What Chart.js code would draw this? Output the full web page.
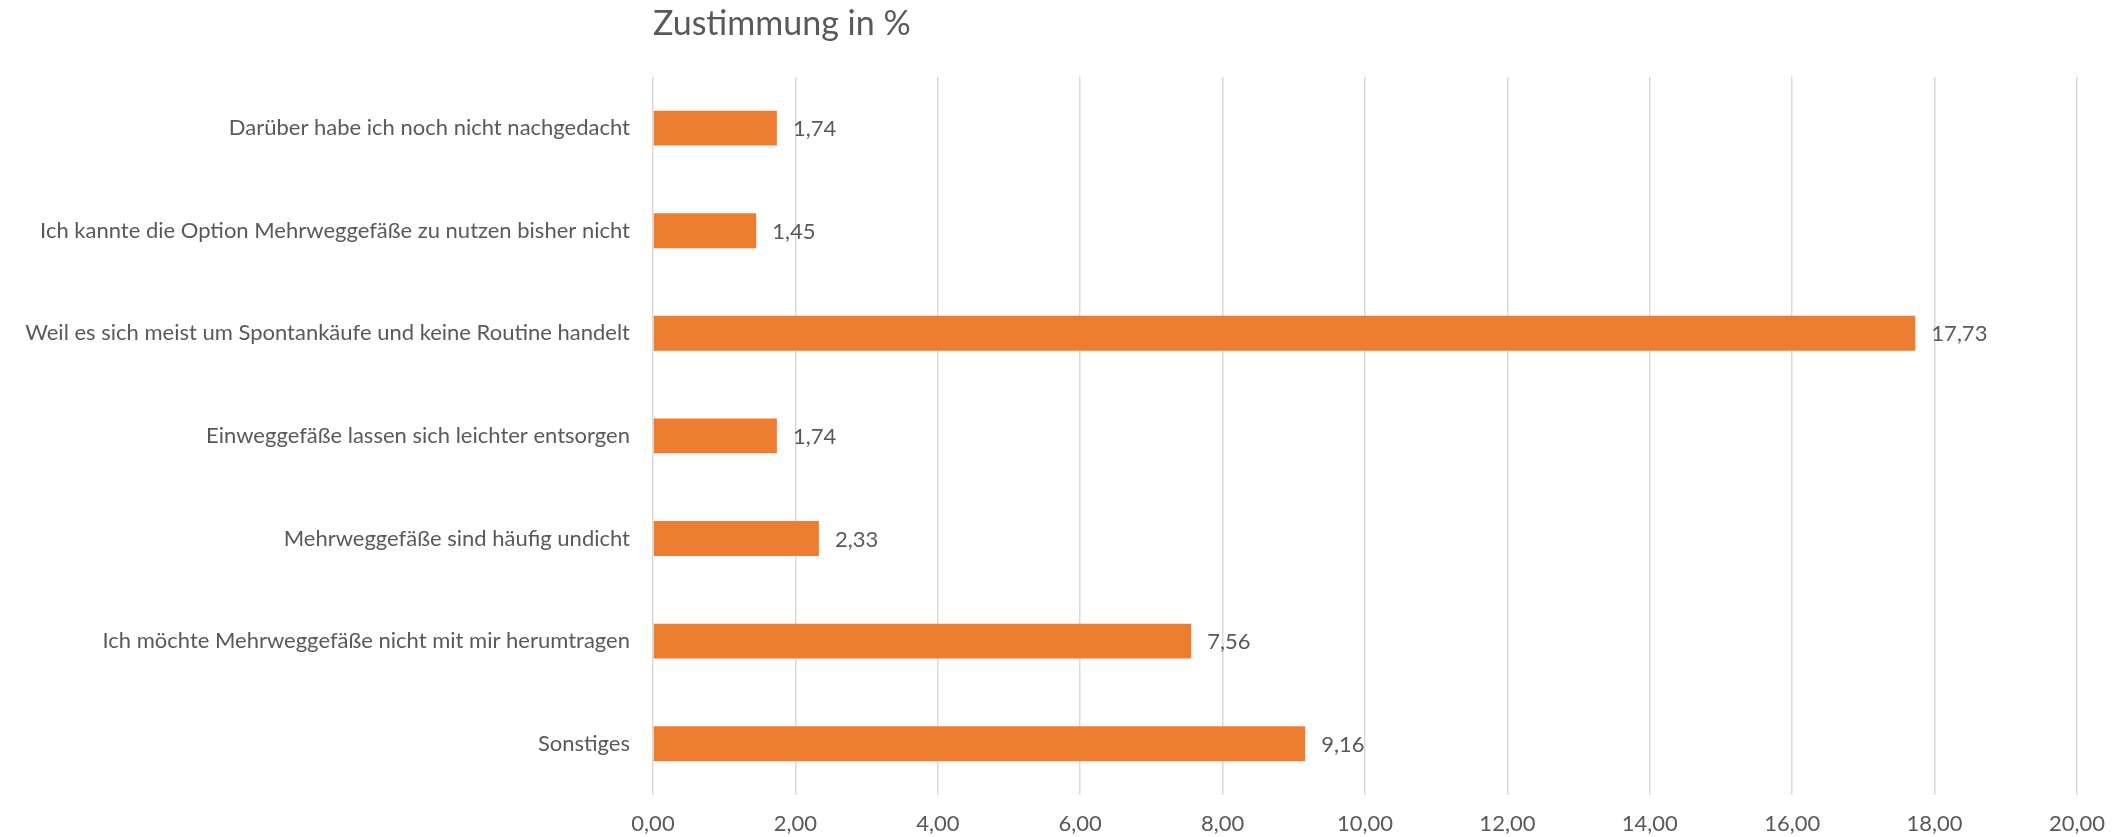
<!doctype html>
<html>
<head>
<title>Zustimmung in %</title>
	<script src="https://cdn.jsdelivr.net/npm/chart.js@4/dist/chart.umd.min.js"></script>
	<style>
		html, body {
			margin: 0;
			padding: 0;
			background: #ffffff;
		}
		#wrap {
			width: 2121px;
			height: 837px;
		}
	</style>
</head>

<body>
	<div id="wrap">
		<canvas id="canvas"></canvas>
	</div>
	<script>
		var categories = [
			'Darüber habe ich noch nicht nachgedacht',
			'Ich kannte die Option Mehrweggefäße zu nutzen bisher nicht',
			'Weil es sich meist um Spontankäufe und keine Routine handelt',
			'Einweggefäße lassen sich leichter entsorgen',
			'Mehrweggefäße sind häufig undicht',
			'Ich möchte Mehrweggefäße nicht mit mir herumtragen',
			'Sonstiges'
		];
		var zustimmung = [1.74, 1.45, 17.73, 1.74, 2.33, 7.56, 9.16];
		var xTicks = [0, 2, 4, 6, 8, 10, 12, 14, 16, 18, 20];

		var textColor = '#595959';
		var fontFamily = 'Lato, "Open Sans", sans-serif';

		function deNum(v) {
			return Number(v).toFixed(2).replace('.', ',');
		}

		// value labels right of each bar
		var valueLabels = {
			id: 'valueLabels',
			afterDatasetsDraw: function(chart) {
				var ctx = chart.ctx;
				var meta = chart.getDatasetMeta(0);
				ctx.save();
				ctx.font = '22px ' + fontFamily;
				ctx.fillStyle = textColor;
				ctx.textAlign = 'left';
				ctx.textBaseline = 'middle';
				meta.data.forEach(function(bar, i) {
					ctx.fillText(deNum(zustimmung[i]), bar.x + 16, bar.y + 1);
				});
				ctx.restore();
			}
		};

		var config = {
			type: 'bar',
			data: {
				labels: categories,
				datasets: [{
					label: 'Zustimmung in %',
					data: zustimmung,
					backgroundColor: '#ED7D31',
					borderWidth: 0,
					categoryPercentage: 1,
					barPercentage: 0.34
				}]
			},
			options: {
				indexAxis: 'y',
				responsive: true,
				maintainAspectRatio: false,
				animation: false,
				layout: {
					padding: { left: 0, right: 41, top: 0, bottom: 0 }
				},
				plugins: {
					legend: { display: false },
					tooltip: { enabled: false },
					title: {
						display: true,
						text: 'Zustimmung in %',
						align: 'start',
						fullSize: false,
						color: textColor,
						font: { family: fontFamily, size: 34, weight: 'normal', lineHeight: 1.2 },
						padding: { top: 4, bottom: 32 }
					}
				},
				scales: {
					x: {
						min: 0,
						max: 20,
						afterBuildTicks: function(scale) {
							scale.ticks = xTicks.map(function(v) { return { value: v }; });
						},
						afterFit: function(scale) {
							scale.height = 42;
						},
						border: { display: false },
						grid: {
							color: '#d9d9d9',
							lineWidth: 1.5,
							drawTicks: false
						},
						ticks: {
							padding: 16,
							color: textColor,
							font: { family: fontFamily, size: 22 },
							callback: function(value) {
								return deNum(value);
							}
						}
					},
					y: {
						afterFit: function(scale) {
							scale.width = 653;
						},
						border: { display: false },
						grid: { display: false, drawTicks: false },
						ticks: {
							padding: 23,
							color: textColor,
							font: { family: fontFamily, size: 22 }
						}
					}
				}
			},
			plugins: [valueLabels]
		};

		var ctx = document.getElementById('canvas').getContext('2d');
		window.myBar = new Chart(ctx, config);
	</script>
</body>

</html>
